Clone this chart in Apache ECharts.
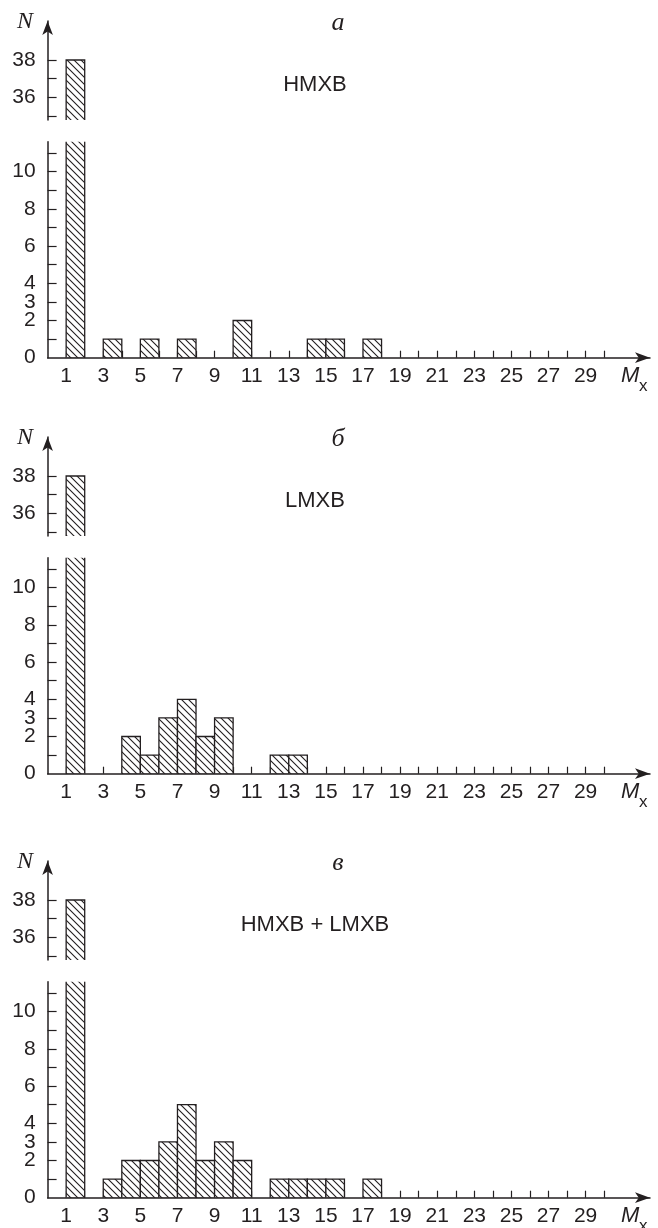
<!DOCTYPE html>
<html><head><meta charset="utf-8">
<script src="https://cdn.jsdelivr.net/npm/echarts@6/dist/echarts.min.js"></script>
<style>html,body{margin:0;padding:0;background:#fff}#c{width:658px;height:1228px}</style>
</head><body><div id="c"></div>
<script>
// ---- data ----
const hmxbBins   = [1, 3, 5, 7, 10, 14, 15, 17];
const hmxbCounts = [38, 1, 1, 1, 2, 1, 1, 1];
const lmxbBins   = [1, 4, 5, 6, 7, 8, 9, 12, 13];
const lmxbCounts = [38, 2, 1, 3, 4, 2, 3, 1, 1];
const allBins    = [1, 3, 4, 5, 6, 7, 8, 9, 10, 12, 13, 14, 15, 17];
const allCounts  = [38, 1, 2, 2, 3, 5, 2, 3, 2, 1, 1, 1, 1, 1];
const xTickValues  = [1,2,3,4,5,6,7,8,9,10,11,12,13,14,15,16,17,18,19,20,21,22,23,24,25,26,27,28,29,30];
const xLabelValues = [1,3,5,7,9,11,13,15,17,19,21,23,25,27,29];
const yLowTicks  = [1,2,3,4,5,6,7,8,9,10,11];
const yLowLabels = [0,2,3,4,6,8,10];
const yUpTicks   = [35,36,37,38];
const yUpLabels  = [36,38];
const panelLetters = ['a', 'б', 'в'];
const panelNames   = ['HMXB', 'LMXB', 'HMXB + LMXB'];

// ---- layout ----
const INK = '#231f20';
const K = 18.6;                 // px per unit (y)
const XL = 47.6, XW = 602.4, XMAX = 32.47;
const UP_TOP = 21, UP_BOT = 120, LO_TOP = 141.7, LO_BOT = 357.7, REF38 = 60;
const offsets = [0, 416, 840];
const FONT = '"Liberation Sans", Arial, sans-serif';
const SERIF = '"Liberation Serif", "Times New Roman", serif';

// hatch pattern
const S = 7;
const cv = document.createElement('canvas'); cv.width = S; cv.height = S;
const g = cv.getContext('2d');
g.fillStyle = '#fff'; g.fillRect(0, 0, S, S);
g.strokeStyle = INK; g.lineWidth = 1.1;
g.beginPath();
g.moveTo(-1, -1); g.lineTo(S + 1, S + 1);
g.moveTo(-1, S - 1); g.lineTo(1, S + 1);
g.moveTo(S - 1, -1); g.lineTo(S + 1, 1);
g.stroke();
const hatch = { image: cv, repeat: 'repeat' };

function renderItem(params, api) {
  const m = api.value(0), v = api.value(1);
  const p0 = api.coord([m, v]);
  const p1 = api.coord([m + 1, 0]);
  return {
    type: 'rect',
    shape: { x: p0[0], y: p0[1], width: p1[0] - p0[0], height: p1[1] - p0[1] },
    style: { fill: hatch, stroke: INK, lineWidth: 1.3 }
  };
}

const panels = [
  { bins: hmxbBins, counts: hmxbCounts },
  { bins: lmxbBins, counts: lmxbCounts },
  { bins: allBins,  counts: allCounts }
];

const grid = [], xAxis = [], yAxis = [], series = [], graphic = [];
const upMin = 38 - (UP_BOT - REF38) / K;
const upMax = 38 + (REF38 - UP_TOP) / K;
const loMax = (LO_BOT - LO_TOP) / K;

panels.forEach((p, i) => {
  const off = offsets[i];
  const data = p.bins.map((m, j) => [m, p.counts[j]]);
  grid.push({ left: XL, width: XW, top: off + UP_TOP, height: UP_BOT - UP_TOP });
  grid.push({ left: XL, width: XW, top: off + LO_TOP, height: LO_BOT - LO_TOP });
  const gu = 2 * i, gl = 2 * i + 1;
  xAxis.push({ gridIndex: gu, type: 'value', min: 0, max: XMAX, show: false });
  xAxis.push({
    gridIndex: gl, type: 'value', min: 0, max: XMAX,
    splitLine: { show: false },
    axisLine: { show: true, onZero: false, symbol: ['none', 'arrow'], symbolSize: [8, 15],
      lineStyle: { color: INK, width: 1.5 } },
    axisTick: { show: true, inside: true, length: 7, customValues: xTickValues,
      lineStyle: { color: INK, width: 1.2 } },
    axisLabel: { show: true, customValues: xLabelValues, margin: 8,
      color: INK, fontSize: 21, fontFamily: FONT }
  });
  yAxis.push({
    gridIndex: gu, type: 'value', min: upMin, max: upMax,
    splitLine: { show: false },
    axisLine: { show: true, onZero: false, symbol: ['none', 'arrow'], symbolSize: [8, 14],
      lineStyle: { color: INK, width: 1.5 } },
    axisTick: { show: true, inside: true, length: 9, customValues: yUpTicks,
      lineStyle: { color: INK, width: 1.2 } },
    axisLabel: { show: true, customValues: yUpLabels, margin: 12,
      color: INK, fontSize: 21, fontFamily: FONT }
  });
  yAxis.push({
    gridIndex: gl, type: 'value', min: 0, max: loMax,
    splitLine: { show: false },
    axisLine: { show: true, onZero: false, lineStyle: { color: INK, width: 1.5 } },
    axisTick: { show: true, inside: true, length: 9, customValues: yLowTicks,
      lineStyle: { color: INK, width: 1.2 } },
    axisLabel: { show: true, customValues: yLowLabels, margin: 12,
      color: INK, fontSize: 21, fontFamily: FONT }
  });
  [gu, gl].forEach(gi => {
    series.push({
      type: 'custom', xAxisIndex: gi, yAxisIndex: gi, clip: true,
      renderItem, data, encode: { x: 0, y: 1 }, z: 3
    });
  });
  graphic.push({ type: 'text', x: 25, y: off + 22, style: { text: 'N', font: 'italic 24px ' + SERIF,
    fill: INK, align: 'center', verticalAlign: 'middle' } });
  graphic.push({ type: 'text', x: 338, y: off + 23, style: { text: panelLetters[i], font: 'italic 26px ' + SERIF,
    fill: INK, align: 'center', verticalAlign: 'middle' } });
  graphic.push({ type: 'text', x: 315, y: off + 85, style: { text: panelNames[i], font: '22px ' + FONT,
    fill: INK, align: 'center', verticalAlign: 'middle' } });
  graphic.push({ type: 'text', x: 621, y: off + 376, style: { text: 'M', font: 'italic 22px ' + FONT,
    fill: INK, align: 'left', verticalAlign: 'middle' } });
  graphic.push({ type: 'text', x: 639, y: off + 386, style: { text: 'x', font: '17px ' + FONT,
    fill: INK, align: 'left', verticalAlign: 'middle' } });
});

const chart = echarts.init(document.getElementById('c'), null, { renderer: 'canvas' });
chart.setOption({
  animation: false,
  backgroundColor: '#fff',
  grid, xAxis, yAxis, series, graphic
});
</script>
</body></html>
